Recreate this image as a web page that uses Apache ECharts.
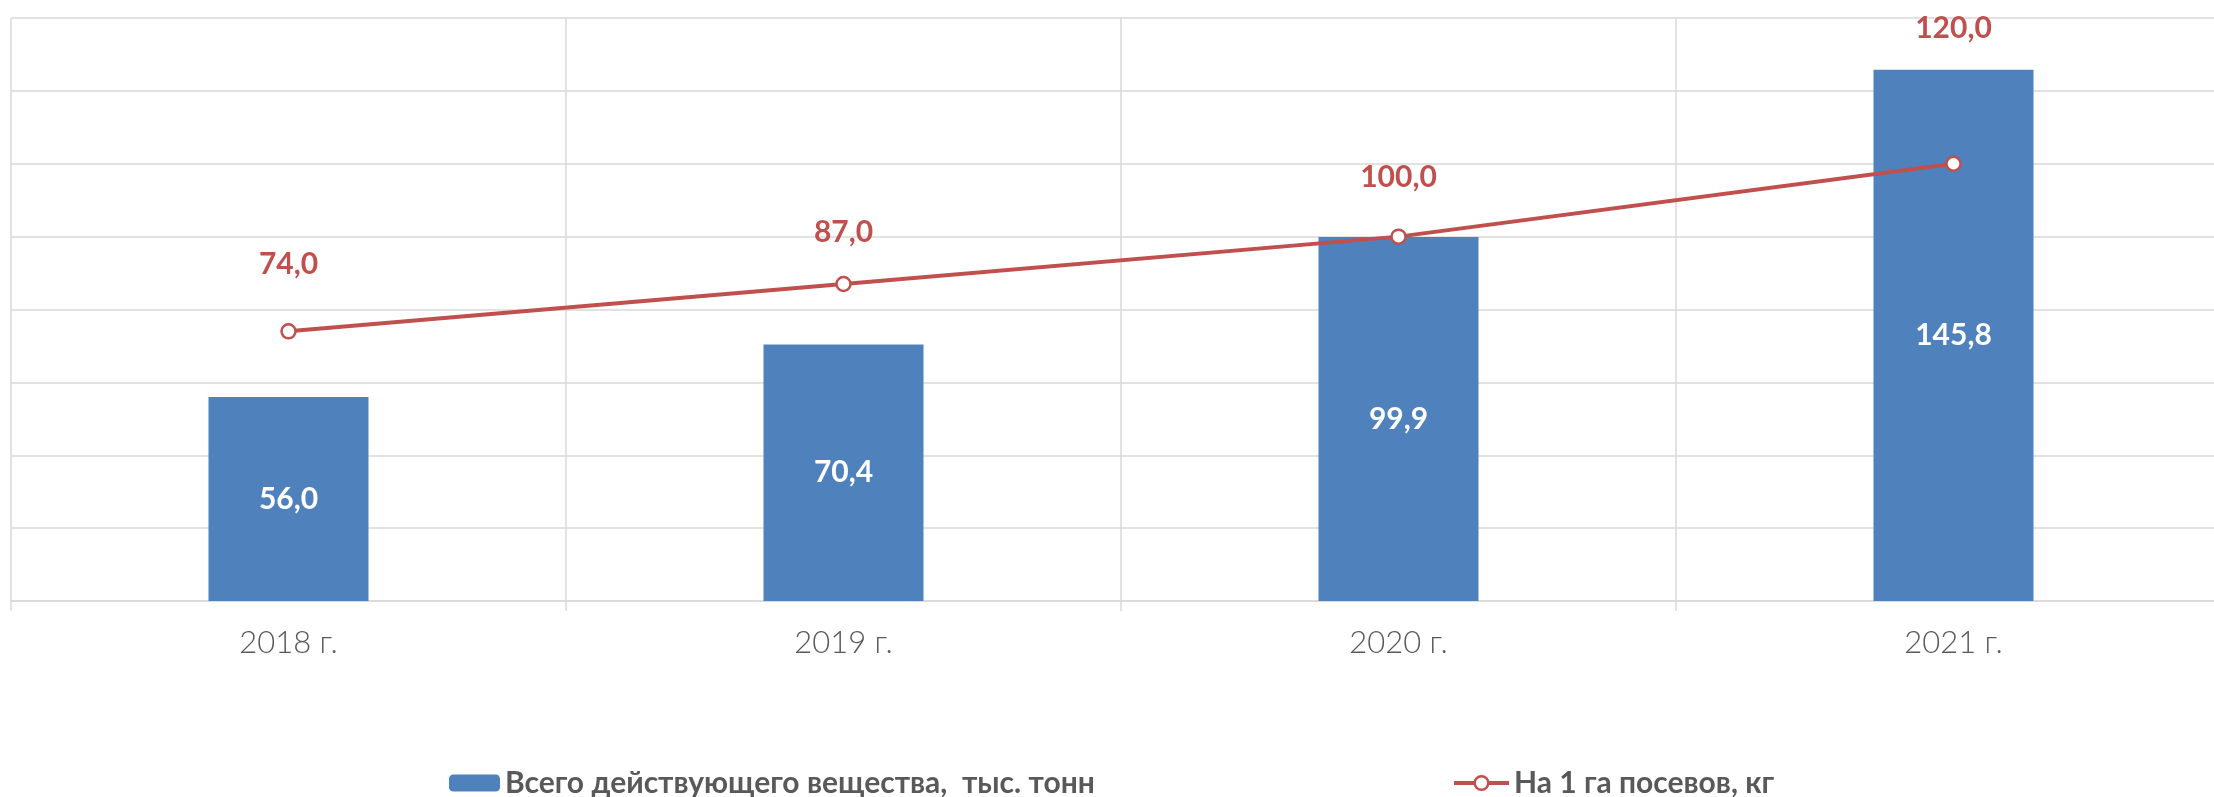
<!DOCTYPE html>
<html>
<head>
<meta charset="utf-8">
<script src="https://cdn.jsdelivr.net/npm/echarts@6/dist/echarts.min.js"></script>
<style>
html,body{margin:0;padding:0;background:#fff;overflow:hidden;width:2214px;height:797px;}
#chart{width:2231px;height:797px;}
</style>
</head>
<body>
<div id="chart"></div>
<script>
const categories = ['2018 г.', '2019 г.', '2020 г.', '2021 г.'];
const totalActive = [56.0, 70.4, 99.9, 145.8];
const perHectare = [74.0, 87.0, 100.0, 120.0];
const barName = 'Всего действующего вещества,  тыс. тонн';
const lineName = 'На 1 га посевов, кг';

// label spacing above line points (style only)
const lineLabelDistance = [44, 28, 36, 112];

const fmt = p => Number(p.value).toFixed(1).replace('.', ',');
const FONT = 'Lato, "Open Sans", sans-serif';

const chart = echarts.init(document.getElementById('chart'), null, {renderer: 'canvas'});
chart.setOption({
  animation: false,
  backgroundColor: '#ffffff',
  grid: {left: 11, top: 18, right: 0, height: 583, containLabel: false},
  legend: [
    {
      data: [barName], left: 444, top: 763, itemWidth: 51, itemHeight: 17, itemGap: 0,
      textStyle: {fontFamily: FONT, fontWeight: 'bold', fontSize: 30, color: '#595959'}
    },
    {
      data: [lineName], left: 1447, top: 763, itemWidth: 55, itemHeight: 17, itemGap: 0,
      lineStyle: {width: 4, color: '#C0504D'},
      itemStyle: {color: '#ffffff', borderColor: '#C0504D', borderWidth: 2.5},
      textStyle: {fontFamily: FONT, fontWeight: 'bold', fontSize: 30, color: '#595959'}
    }
  ],
  xAxis: {
    type: 'category',
    data: categories,
    boundaryGap: true,
    axisLine: {show: true, lineStyle: {color: '#d9d9d9', width: 1.5}},
    axisTick: {show: true, length: 10, lineStyle: {color: '#d9d9d9', width: 1.5}},
    splitLine: {show: true, lineStyle: {color: '#d9d9d9', width: 1.5}},
    axisLabel: {fontFamily: FONT, fontWeight: 300, fontSize: 31, color: '#595959', margin: 26}
  },
  yAxis: {
    type: 'value',
    min: 0, max: 160, interval: 20,
    axisLabel: {show: false},
    axisLine: {show: false},
    axisTick: {show: false},
    splitLine: {show: true, lineStyle: {color: '#d9d9d9', width: 1.5}}
  },
  series: [
    {
      name: barName,
      type: 'bar',
      data: totalActive,
      barWidth: 160,
      itemStyle: {color: '#4F81BD'},
      label: {
        show: true, position: 'inside', formatter: fmt,
        fontFamily: FONT, fontWeight: 'bold', fontSize: 30, color: '#ffffff'
      },
      z: 2
    },
    {
      name: lineName,
      type: 'line',
      data: perHectare.map((v, i) => ({value: v, label: {distance: lineLabelDistance[i]}})),
      symbol: 'circle',
      symbolSize: 14,
      lineStyle: {color: '#C0504D', width: 4},
      itemStyle: {color: '#ffffff', borderColor: '#C0504D', borderWidth: 2.5},
      label: {
        show: true, position: 'top', formatter: fmt,
        fontFamily: FONT, fontWeight: 'bold', fontSize: 30, color: '#C0504D'
      },
      z: 5
    }
  ]
});
</script>
</body>
</html>
